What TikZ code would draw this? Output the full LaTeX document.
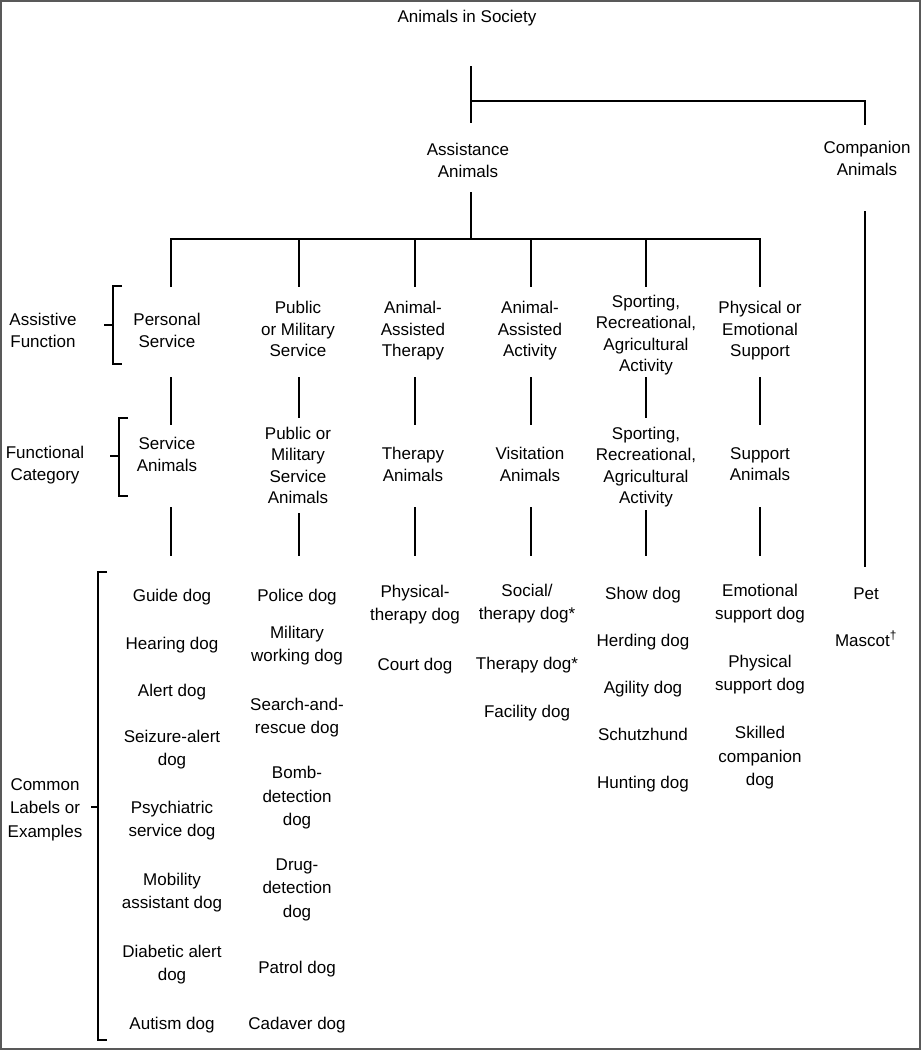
\documentclass[tikz,border=0pt]{standalone}
\usepackage{fontspec}
\setmainfont{Liberation Sans}
\begin{document}
\begin{tikzpicture}[x=1pt,y=-1pt,
  lbl/.style={font=\fontsize{17}{21.5}\selectfont, align=center, inner sep=0pt,
    yshift=-2.5pt, execute at begin node=\strut, execute at end node=\strut},
  ex/.style={lbl, font=\fontsize{17}{23.5}\selectfont},
  conn/.style={line width=2.6pt, line join=miter},
  brk/.style={line width=2.2pt, line join=miter}]
\useasboundingbox (0,0) rectangle (921,1050);
\draw[gray!70!black, line width=1.6pt] (1,1) rectangle (920,1049);

% top levels
\node[lbl] (title)  at (467,16)  {Animals in Society};
\node[lbl] (assist) at (468,161) {Assistance\\Animals};
\node[lbl] (comp)   at (867,159) {Companion\\Animals};

% row 1: assistive function
\node[lbl] (af)  at (43,331)  {Assistive\\Function};
\node[lbl] (ps)  at (167,331) {Personal\\Service};
\node[lbl] (pm)  at (298,330) {Public\\or Military\\Service};
\node[lbl] (aat) at (413,330) {Animal-\\Assisted\\Therapy};
\node[lbl] (aaa) at (530,330) {Animal-\\Assisted\\Activity};
\node[lbl] (sra) at (646,334) {Sporting,\\Recreational,\\Agricultural\\Activity};
\node[lbl] (pes) at (760,330) {Physical or\\Emotional\\Support};

% row 2: functional category
\node[lbl] (fc)   at (45,464)  {Functional\\Category};
\node[lbl] (sa)   at (167,455) {Service\\Animals};
\node[lbl] (pmsa) at (298,466) {Public or\\Military\\Service\\Animals};
\node[lbl] (ta)   at (413,465) {Therapy\\Animals};
\node[lbl] (va)   at (530,465) {Visitation\\Animals};
\node[lbl] (srb)  at (646,466) {Sporting,\\Recreational,\\Agricultural\\Activity};
\node[lbl] (supa) at (760,465) {Support\\Animals};

% row 3: examples
\node[ex] (cl) at (45,809) {Common\\Labels or\\Examples};

\node[ex] (g1) at (172,594)  {Guide dog};
\node[ex] (g2) at (172,642)  {Hearing dog};
\node[ex] (g3) at (172,689)  {Alert dog};
\node[ex] (g4) at (172,749)  {Seizure-alert\\dog};
\node[ex] (g5) at (172,820)  {Psychiatric\\service dog};
\node[ex] (g6) at (172,892)  {Mobility\\assistant dog};
\node[ex] (g7) at (172,964)  {Diabetic alert\\dog};
\node[ex] (g8) at (172,1022) {Autism dog};

\node[ex] (p1) at (297,594)  {Police dog};
\node[ex] (p2) at (297,645)  {Military\\working dog};
\node[ex] (p3) at (297,717)  {Search-and-\\rescue dog};
\node[ex] (p4) at (297,797)  {Bomb-\\detection\\dog};
\node[ex] (p5) at (297,889)  {Drug-\\detection\\dog};
\node[ex] (p6) at (297,966)  {Patrol dog};
\node[ex] (p7) at (297,1022) {Cadaver dog};

\node[ex] (t1) at (415,604) {Physical-\\therapy dog};
\node[ex] (t2) at (415,663) {Court dog};

\node[ex] (v1) at (527,603) {Social/\\therapy dog*};
\node[ex] (v2) at (527,662) {Therapy dog*};
\node[ex] (v3) at (527,710) {Facility dog};

\node[ex] (s1) at (643,592) {Show dog};
\node[ex] (s2) at (643,639) {Herding dog};
\node[ex] (s3) at (643,686) {Agility dog};
\node[ex] (s4) at (643,733) {Schutzhund};
\node[ex] (s5) at (643,781) {Hunting dog};

\node[ex] (e1) at (760,603) {Emotional\\support dog};
\node[ex] (e2) at (760,674) {Physical\\support dog};
\node[ex] (e3) at (760,757) {Skilled\\companion\\dog};

\node[ex] (c1) at (866,592) {Pet};
\node[ex] (c2) at (866,639) {Mascot\textsuperscript{†}};

% connector end points
\coordinate (r0) at (471,66);
\coordinate (r1) at (471,101);
\coordinate (r2) at (471,123);
\coordinate (r3) at (865,101);
\coordinate (r4) at (865,125);
\coordinate (a0) at (471,192);
\coordinate (a1) at (471,239);
\coordinate (hl) at (171,239);
\coordinate (hr) at (760,239);
\coordinate (hlb) at (171,287);
\coordinate (hrb) at (760,287);
\coordinate (k0) at (865,211);
\coordinate (k1) at (865,567);

\draw[conn] (r0) -- (r2);
\draw[conn] (r1) -- (r3) -- (r4);
\draw[conn] (a0) -- (a1);
\draw[conn] (hlb) -- (hl) -- (hr) -- (hrb);
\foreach \n/\x in {2/299,3/415,4/531,5/646}{
  \coordinate (hc\n) at (\x,239);
  \coordinate (hd\n) at (\x,287);
  \draw[conn] (hc\n) -- (hd\n);
}
\draw[conn] (k0) -- (k1);

% row1 -> row2
\foreach \n/\x/\b in {1/171/425,2/299/418,3/415/425,4/531/425,5/646/418,6/760/425}{
  \coordinate (m\n) at (\x,377);
  \coordinate (mb\n) at (\x,\b);
  \draw[conn] (m\n) -- (mb\n);
}
% row2 -> row3
\foreach \n/\x/\t in {1/171/507,2/299/513,3/415/507,4/531/507,5/646/510,6/760/507}{
  \coordinate (n\n) at (\x,\t);
  \coordinate (nb\n) at (\x,556);
  \draw[conn] (n\n) -- (nb\n);
}

% brackets
\coordinate (b1a) at (122,286); \coordinate (b1b) at (113,286);
\coordinate (b1c) at (113,364); \coordinate (b1d) at (122,364);
\coordinate (b1m) at (113,325); \coordinate (b1t) at (104,325);
\draw[brk] (b1a) -- (b1b) -- (b1c) -- (b1d);
\draw[brk] (b1t) -- (b1m);

\coordinate (b2a) at (128,418); \coordinate (b2b) at (119,418);
\coordinate (b2c) at (119,496); \coordinate (b2d) at (128,496);
\coordinate (b2m) at (119,456); \coordinate (b2t) at (110,456);
\draw[brk] (b2a) -- (b2b) -- (b2c) -- (b2d);
\draw[brk] (b2t) -- (b2m);

\coordinate (b3a) at (107,572); \coordinate (b3b) at (98,572);
\coordinate (b3c) at (98,1040); \coordinate (b3d) at (107,1040);
\coordinate (b3m) at (98,807);  \coordinate (b3t) at (91,807);
\draw[brk] (b3a) -- (b3b) -- (b3c) -- (b3d);
\draw[brk] (b3t) -- (b3m);
\end{tikzpicture}
\end{document}
